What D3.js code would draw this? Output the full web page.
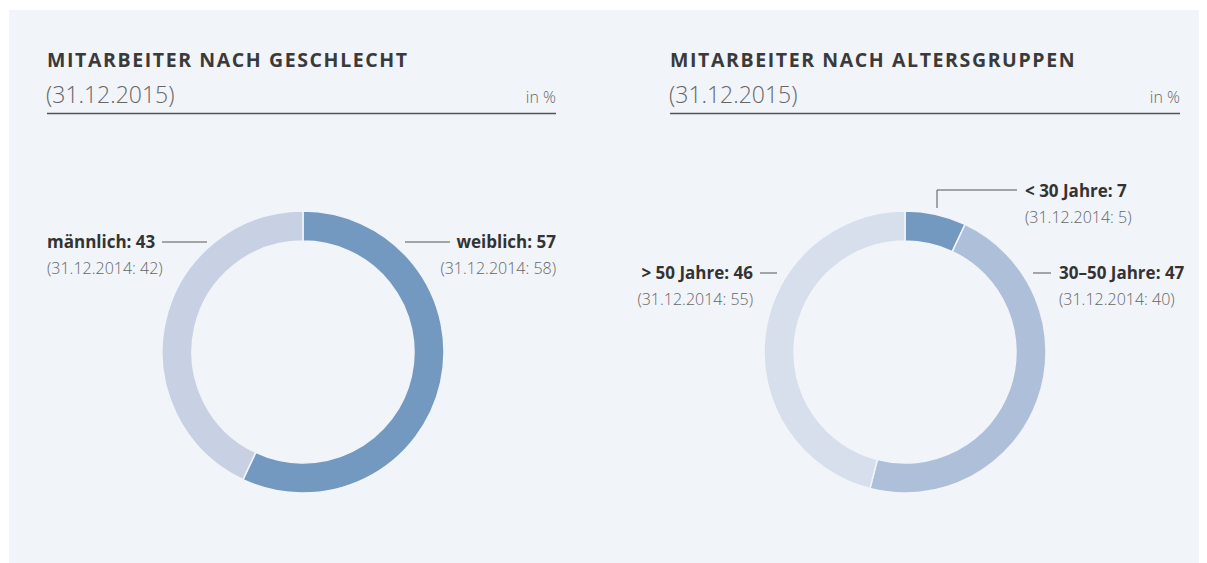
<!DOCTYPE html>
<html>
<head>
<meta charset="utf-8">
<script src="https://cdn.jsdelivr.net/npm/d3@7"></script>
<style>
  body { margin: 0; background: #ffffff; }
  svg { display: block; font-family: "Open Sans", sans-serif; }
  .title { font-size: 19.5px; font-weight: 700; fill: #3a3a3a; letter-spacing: 1.6px; }
  .date { font-size: 23px; font-weight: 300; fill: #666; }
  .unit { font-size: 16px; font-weight: 300; fill: #666; }
  .lbl { font-size: 17px; font-weight: 700; fill: #333; }
  .prev { font-size: 16px; font-weight: 300; fill: #666; }
</style>
</head>
<body>
<svg id="svg1" width="1207" height="563"></svg>
<script>
// gender chart
var genderCats = ["weiblich", "männlich"];
var genderVals = [57, 43];
var genderPrev = [58, 42];

// age chart
var ageCats = ["< 30 Jahre", "30–50 Jahre", "> 50 Jahre"];
var ageVals = [7, 47, 46];
var agePrev = [5, 40, 55];

var titles = ["MITARBEITER NACH GESCHLECHT", "MITARBEITER NACH ALTERSGRUPPEN"];
var dateLabel = "(31.12.2015)";
var prevDate = "31.12.2014";

var svg = d3.select("#svg1");

svg.append("rect")
   .attr("x", 9).attr("y", 10)
   .attr("width", 1190).attr("height", 553)
   .attr("fill", "#f1f4f9");

var outerR = 141, innerR = 111;

var pie = d3.pie().sort(null).value(function(d) { return d.value; });
var arc = d3.arc().innerRadius(innerR).outerRadius(outerR);

var charts = [
  { x0: 47, x1: 556, cx: 303, cy: 352,
    cats: genderCats, vals: genderVals, prev: genderPrev,
    colors: ["#7399c0", "#c8d1e4"],
    // label layout: text anchor point and leader line, relative to center
    labels: [
      { tx: 253, ty: -104, anchor: "end", line: [[102, -110], [147, -110]] },
      { tx: -256, ty: -104, anchor: "start", line: [[-141, -110], [-96, -110]] }
    ] },
  { x0: 670, x1: 1180, cx: 905, cy: 352,
    cats: ageCats, vals: ageVals, prev: agePrev,
    colors: ["#7399c0", "#adbfd9", "#d7dfec"],
    labels: [
      { tx: 120, ty: -155, anchor: "start", line: [[32, -144], [32, -162], [112, -162]] },
      { tx: 154, ty: -73, anchor: "start", line: [[128, -79], [146, -79]] },
      { tx: -152, ty: -73, anchor: "end", line: [[-145, -79], [-128, -79]] }
    ] }
];

charts.forEach(function(c, ci) {
  var g = svg.append("g");

  g.append("text").attr("class", "title")
   .attr("x", c.x0).attr("y", 67).text(titles[ci]);
  g.append("text").attr("class", "date")
   .attr("x", c.x0 - 1).attr("y", 103).text(dateLabel);
  g.append("text").attr("class", "unit")
   .attr("x", c.x1).attr("y", 103).attr("text-anchor", "end").text("in %");
  g.append("line")
   .attr("x1", c.x0).attr("x2", c.x1)
   .attr("y1", 113.5).attr("y2", 113.5)
   .attr("stroke", "#555").attr("stroke-width", 1.5);

  var data = c.cats.map(function(k, i) {
    return { name: k, value: c.vals[i], prev: c.prev[i], color: c.colors[i] };
  });

  var donut = g.append("g")
    .attr("transform", "translate(" + c.cx + "," + c.cy + ")");

  donut.selectAll(".slice")
    .data(pie(data))
    .enter()
    .append("path")
      .attr("class", "slice")
      .attr("d", arc)
      .attr("fill", function(d) { return d.data.color; })
      .attr("stroke", "#f1f4f9")
      .attr("stroke-width", 1.5);

  data.forEach(function(d, i) {
    var L = c.labels[i];
    donut.append("polyline")
      .attr("points", L.line.map(function(p) { return p.join(","); }).join(" "))
      .attr("fill", "none")
      .attr("stroke", "#555")
      .attr("stroke-width", 1);

    var t = donut.append("text")
      .attr("x", L.tx).attr("y", L.ty)
      .attr("text-anchor", L.anchor);
    t.append("tspan").attr("class", "lbl")
      .attr("x", L.tx).attr("dy", 0)
      .text(d.name + ": " + d.value);
    t.append("tspan").attr("class", "prev")
      .attr("x", L.tx).attr("dy", 25.5)
      .text("(" + prevDate + ": " + d.prev + ")");
  });
});
</script>
</body>
</html>
